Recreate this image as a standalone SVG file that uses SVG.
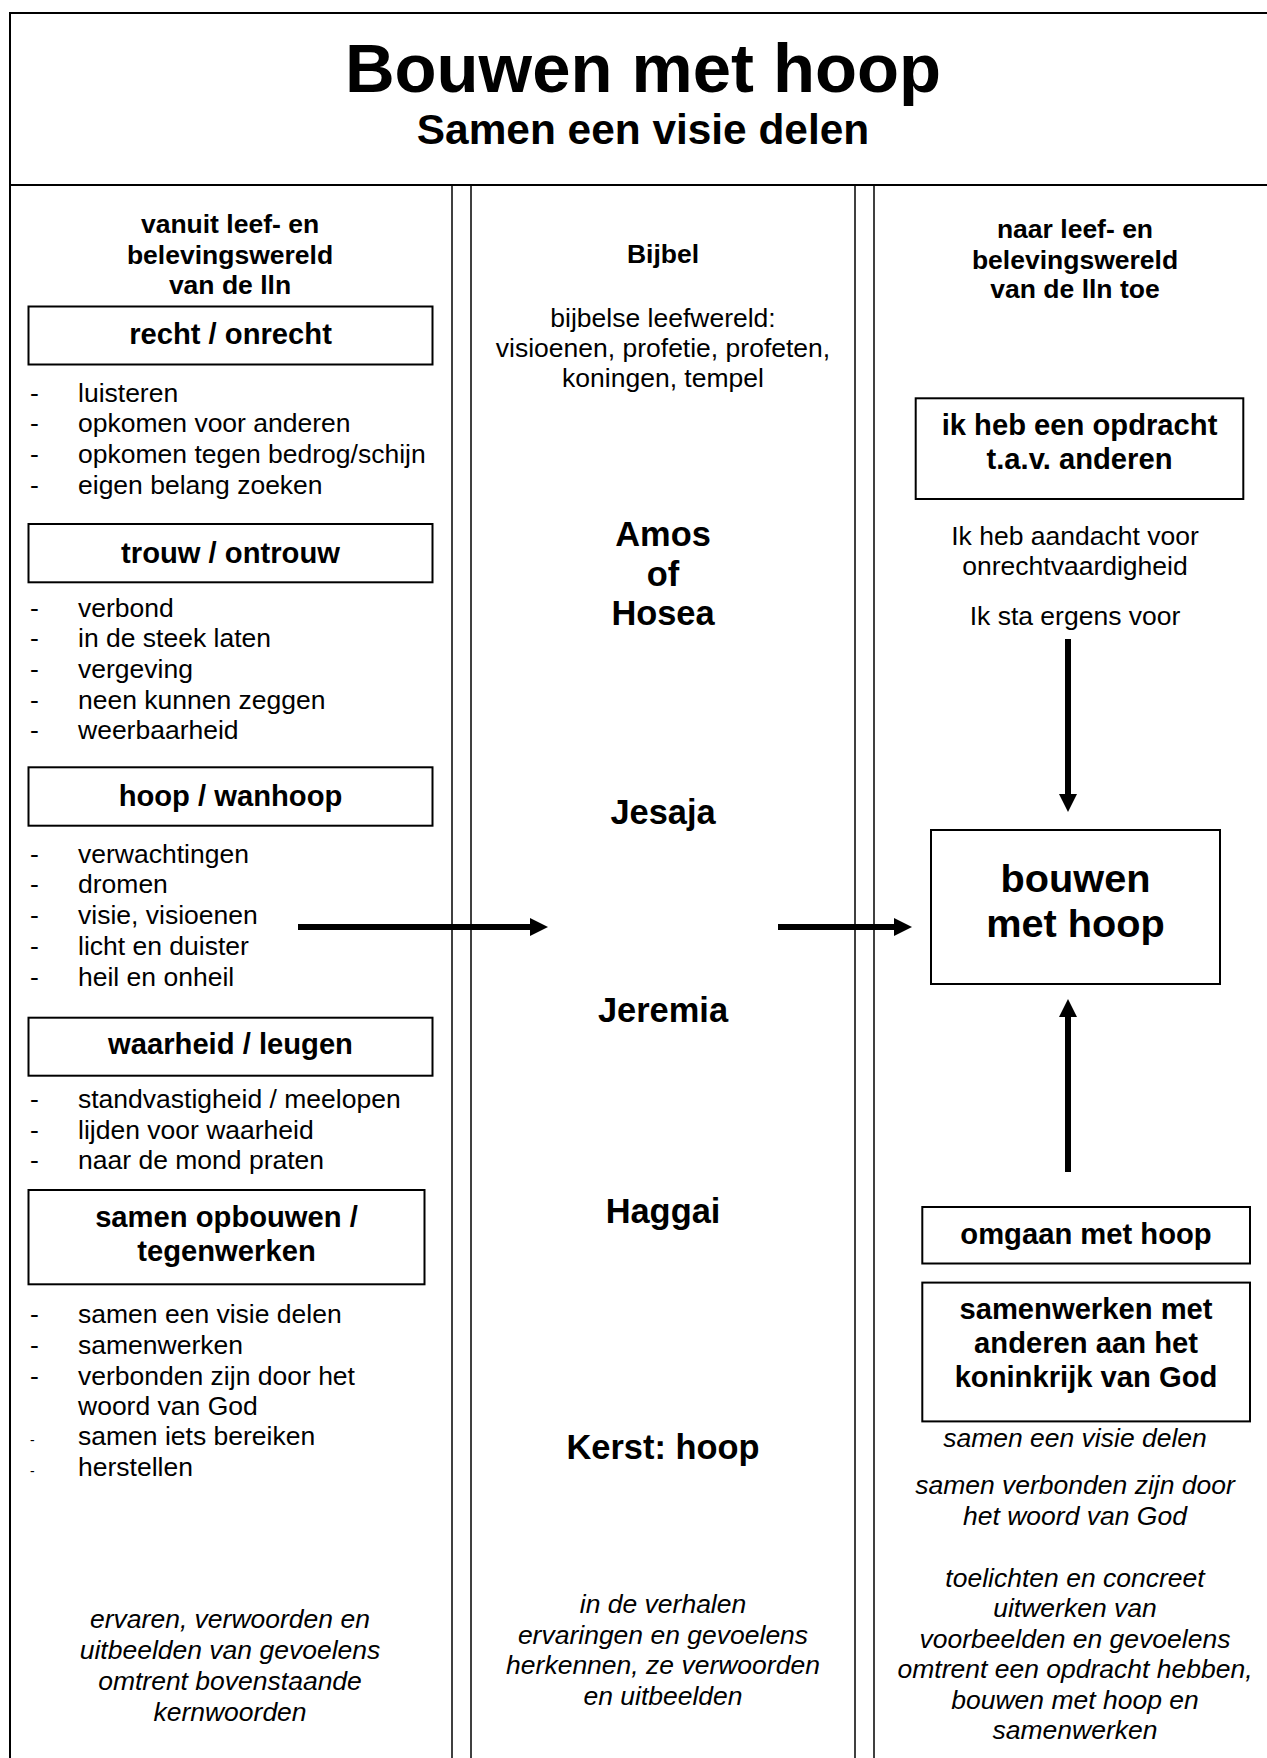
<svg xmlns="http://www.w3.org/2000/svg" width="1267" height="1758" viewBox="0 0 1267 1758">
<style>
text{font-family:"Liberation Sans",Arial,sans-serif;fill:#000}
.t{font-size:68.8px;font-weight:bold;text-anchor:middle}
.st{font-size:42.4px;font-weight:bold;text-anchor:middle}
.ch{font-size:26.5px;font-weight:bold;text-anchor:middle}
.b{font-size:26.5px}
.bc{font-size:26.5px;text-anchor:middle}
.h{font-size:29.2px;font-weight:bold;text-anchor:middle}
.p{font-size:34.4px;font-weight:bold;text-anchor:middle}
.big{font-size:39.7px;font-weight:bold;text-anchor:middle}
.i{font-size:26.5px;font-style:italic;text-anchor:middle}
.d{font-size:26.5px}
.ds{font-size:14px}
.box{fill:#fff;stroke:#000;stroke-width:2}
.frame{stroke:#000;stroke-width:2;fill:none}
.col{stroke:#000;stroke-width:1.5;fill:none}
.arr{stroke:#000;stroke-width:6;fill:none;marker-end:url(#ah)}
</style>
<defs>
<marker id="ah" markerUnits="userSpaceOnUse" markerWidth="18" markerHeight="18" viewBox="0 0 18 18" refX="0" refY="9" orient="auto">
<path d="M0,0 L18,9 L0,18 z" fill="#000"/>
</marker>
</defs>
<rect width="1267" height="1758" fill="#fff"/>
<g id="frame">
<line class="frame" x1="10" y1="13" x2="1267" y2="13"/>
<line class="frame" x1="10" y1="185" x2="1267" y2="185"/>
<line class="frame" x1="10" y1="12" x2="10" y2="1758"/>
<line class="col" x1="452" y1="185" x2="452" y2="1758"/>
<line class="col" x1="471" y1="185" x2="471" y2="1758"/>
<line class="col" x1="855" y1="185" x2="855" y2="1758"/>
<line class="col" x1="874" y1="185" x2="874" y2="1758"/>
</g>
<g id="header">
<text class="t" x="643" y="92">Bouwen met hoop</text>
<text class="st" x="643" y="144">Samen een visie delen</text>
</g>
<g id="left-header">
<text class="ch" x="230"><tspan x="230" y="233">vanuit leef- en</tspan><tspan x="230" y="263.5">belevingswereld</tspan><tspan x="230" y="294">van de lln</tspan></text>
</g>
<g id="recht">
<rect class="box" x="28.5" y="306.5" width="404" height="58"/>
<text class="h" x="230.5" y="343.5">recht / onrecht</text>
</g>
<g id="recht-list">
<text class="d" x="30" y="401.5">-</text><text class="b" x="78" y="401.5">luisteren</text>
<text class="d" x="30" y="432.3">-</text><text class="b" x="78" y="432.3">opkomen voor anderen</text>
<text class="d" x="30" y="463.1">-</text><text class="b" x="78" y="463.1">opkomen tegen bedrog/schijn</text>
<text class="d" x="30" y="493.9">-</text><text class="b" x="78" y="493.9">eigen belang zoeken</text>
</g>
<g id="trouw">
<rect class="box" x="28.5" y="524" width="404" height="58.3"/>
<text class="h" x="230.5" y="563.3">trouw / ontrouw</text>
</g>
<g id="trouw-list">
<text class="d" x="30" y="616.7">-</text><text class="b" x="78" y="616.7">verbond</text>
<text class="d" x="30" y="647.3">-</text><text class="b" x="78" y="647.3">in de steek laten</text>
<text class="d" x="30" y="677.9">-</text><text class="b" x="78" y="677.9">vergeving</text>
<text class="d" x="30" y="708.5">-</text><text class="b" x="78" y="708.5">neen kunnen zeggen</text>
<text class="d" x="30" y="739.1">-</text><text class="b" x="78" y="739.1">weerbaarheid</text>
</g>
<g id="hoop">
<rect class="box" x="28.5" y="767.3" width="404" height="58.4"/>
<text class="h" x="230.5" y="806">hoop / wanhoop</text>
</g>
<g id="hoop-list">
<text class="d" x="30" y="862.7">-</text><text class="b" x="78" y="862.7">verwachtingen</text>
<text class="d" x="30" y="893.4">-</text><text class="b" x="78" y="893.4">dromen</text>
<text class="d" x="30" y="924.1">-</text><text class="b" x="78" y="924.1">visie, visioenen</text>
<text class="d" x="30" y="954.8">-</text><text class="b" x="78" y="954.8">licht en duister</text>
<text class="d" x="30" y="985.5">-</text><text class="b" x="78" y="985.5">heil en onheil</text>
</g>
<g id="waarheid">
<rect class="box" x="28.5" y="1017.7" width="404" height="58"/>
<text class="h" x="230.5" y="1054.3">waarheid / leugen</text>
</g>
<g id="waarheid-list">
<text class="d" x="30" y="1108.3">-</text><text class="b" x="78" y="1108.3">standvastigheid / meelopen</text>
<text class="d" x="30" y="1138.8">-</text><text class="b" x="78" y="1138.8">lijden voor waarheid</text>
<text class="d" x="30" y="1169.3">-</text><text class="b" x="78" y="1169.3">naar de mond praten</text>
</g>
<g id="samen">
<rect class="box" x="28.5" y="1190" width="396" height="94.3"/>
<text class="h" x="226.5"><tspan x="226.5" y="1227.3">samen opbouwen /</tspan><tspan x="226.5" y="1260.7">tegenwerken</tspan></text>
</g>
<g id="samen-list">
<text class="d" x="30" y="1323.3">-</text><text class="b" x="78" y="1323.3">samen een visie delen</text>
<text class="d" x="30" y="1354">-</text><text class="b" x="78" y="1354">samenwerken</text>
<text class="d" x="30" y="1384.5">-</text><text class="b" x="78" y="1384.5">verbonden zijn door het</text>
<text class="b" x="78" y="1415">woord van God</text>
<text class="ds" x="30" y="1445">-</text><text class="b" x="78" y="1445">samen iets bereiken</text>
<text class="ds" x="30" y="1475.7">-</text><text class="b" x="78" y="1475.7">herstellen</text>
</g>
<g id="left-footer">
<text class="i" x="230"><tspan x="230" y="1628.3">ervaren, verwoorden en</tspan><tspan x="230" y="1659.1">uitbeelden van gevoelens</tspan><tspan x="230" y="1689.9">omtrent bovenstaande</tspan><tspan x="230" y="1720.7">kernwoorden</tspan></text>
</g>
<g id="center-header">
<text class="ch" x="663" y="263.3">Bijbel</text>
<text class="bc" x="663"><tspan x="663" y="326.7">bijbelse leefwereld:</tspan><tspan x="663" y="356.7">visioenen, profetie, profeten,</tspan><tspan x="663" y="386.7">koningen, tempel</tspan></text>
</g>
<g id="amos">
<text class="p" x="663"><tspan x="663" y="546">Amos</tspan><tspan x="663" y="585.6">of</tspan><tspan x="663" y="625.2">Hosea</tspan></text>
</g>
<g id="jesaja"><text class="p" x="663" y="824">Jesaja</text></g>
<g id="jeremia"><text class="p" x="663" y="1022">Jeremia</text></g>
<g id="haggai"><text class="p" x="663" y="1223">Haggai</text></g>
<g id="kerst"><text class="p" x="663" y="1459">Kerst: hoop</text></g>
<g id="center-footer">
<text class="i" x="663"><tspan x="663" y="1613.3">in de verhalen</tspan><tspan x="663" y="1643.8">ervaringen en gevoelens</tspan><tspan x="663" y="1674.3">herkennen, ze verwoorden</tspan><tspan x="663" y="1704.8">en uitbeelden</tspan></text>
</g>
<g id="right-header">
<text class="ch" x="1075"><tspan x="1075" y="238.3">naar leef- en</tspan><tspan x="1075" y="268.8">belevingswereld</tspan><tspan x="1075" y="298.3">van de lln toe</tspan></text>
</g>
<g id="opdracht">
<rect class="box" x="915.7" y="398.3" width="327.6" height="100.7"/>
<text class="h" x="1079.5"><tspan x="1079.5" y="435">ik heb een opdracht</tspan><tspan x="1079.5" y="469.3">t.a.v. anderen</tspan></text>
</g>
<g id="aandacht">
<text class="bc" x="1075"><tspan x="1075" y="545">Ik heb aandacht voor</tspan><tspan x="1075" y="575">onrechtvaardigheid</tspan><tspan x="1075" y="625">Ik sta ergens voor</tspan></text>
</g>
<g id="bouwen">
<rect class="box" x="931" y="830" width="289" height="154"/>
<text class="big" x="1075.5"><tspan x="1075.5" y="891.7">bouwen</tspan><tspan x="1075.5" y="937.3">met hoop</tspan></text>
</g>
<g id="omgaan">
<rect class="box" x="922.3" y="1207" width="327.7" height="56.5"/>
<text class="h" x="1086" y="1244.2">omgaan met hoop</text>
</g>
<g id="samenwerken">
<rect class="box" x="922.3" y="1282.6" width="327.7" height="138.8"/>
<text class="h" x="1086"><tspan x="1086" y="1319.4">samenwerken met</tspan><tspan x="1086" y="1353">anderen aan het</tspan><tspan x="1086" y="1386.5">koninkrijk van God</tspan></text>
</g>
<g id="right-footer">
<text class="i" x="1075"><tspan x="1075" y="1446.6">samen een visie delen</tspan><tspan x="1075" y="1494.3">samen verbonden zijn door</tspan><tspan x="1075" y="1525">het woord van God</tspan><tspan x="1075" y="1587">toelichten en concreet</tspan><tspan x="1075" y="1617.3">uitwerken van</tspan><tspan x="1075" y="1647.6">voorbeelden en gevoelens</tspan><tspan x="1075" y="1678">omtrent een opdracht hebben,</tspan><tspan x="1075" y="1708.6">bouwen met hoop en</tspan><tspan x="1075" y="1738.6">samenwerken</tspan></text>
</g>
<g id="connectors">
<line class="arr" x1="298" y1="927" x2="530" y2="927"/>
<line class="arr" x1="778" y1="927" x2="894" y2="927"/>
<line class="arr" x1="1068" y1="639" x2="1068" y2="794"/>
<line class="arr" x1="1068" y1="1172" x2="1068" y2="1017"/>
</g>
</svg>
